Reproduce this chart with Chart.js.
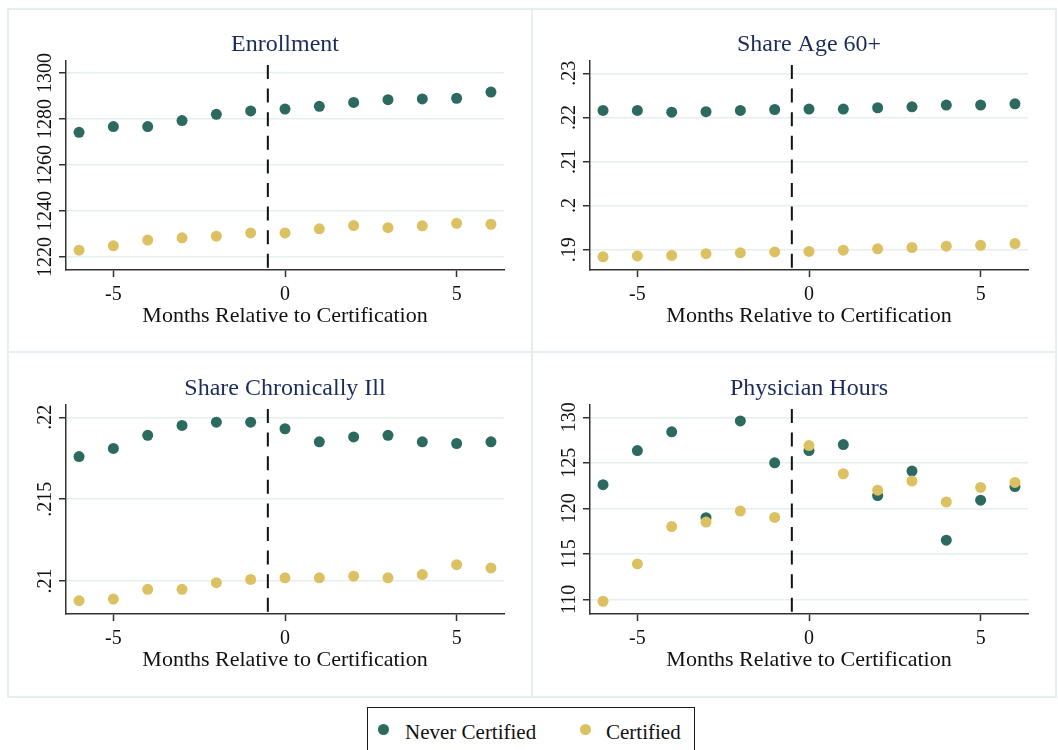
<!DOCTYPE html>
<html>
<head>
<meta charset="utf-8">
<script src="https://cdn.jsdelivr.net/npm/chart.js@4/dist/chart.umd.min.js"></script>
<style>
  body { margin: 0; background: #fff; width: 1058px; height: 750px; position: relative; overflow: hidden;
         font-family: "Liberation Serif", "Times New Roman", serif; }
  .frame { position: absolute; box-sizing: border-box; border: 2px solid #e6eef0; }
  canvas { position: absolute; }
  #legend { position: absolute; left: 367px; top: 707px; width: 328px; height: 60px; box-sizing: border-box;
            border: 1.5px solid #1a1a1a; }
  .dot { position: absolute; width: 11px; height: 11px; border-radius: 50%; }
  .lbl { position: absolute; font-size: 21px; line-height: 26px; color: #111; white-space: nowrap; }
</style>
</head>
<body>
<div class="frame" style="left:7px;top:8px;width:526px;height:345px"></div>
<div class="frame" style="left:531px;top:8px;width:526px;height:345px"></div>
<div class="frame" style="left:7px;top:351px;width:526px;height:347px"></div>
<div class="frame" style="left:531px;top:351px;width:526px;height:347px"></div>

<canvas id="c1" width="524" height="344" style="left:8px;top:8px"></canvas>
<canvas id="c2" width="524" height="344" style="left:532px;top:8px"></canvas>
<canvas id="c3" width="524" height="344" style="left:8px;top:352px"></canvas>
<canvas id="c4" width="524" height="344" style="left:532px;top:352px"></canvas>

<div id="legend"></div>
<div class="dot" style="left:378px;top:724px;background:#2c6a5f"></div>
<div class="lbl" style="left:405px;top:719px">Never Certified</div>
<div class="dot" style="left:580px;top:724px;background:#dcc162"></div>
<div class="lbl" style="left:606px;top:719px">Certified</div>

<script>
var months = [-6, -5, -4, -3, -2, -1, 0, 1, 2, 3, 4, 5, 6];

var enrollNever = [1274.2, 1276.7, 1276.7, 1279.3, 1282.0, 1283.5, 1284.3, 1285.5, 1287.2, 1288.4, 1288.7, 1289.0, 1291.7];
var enrollCert  = [1222.9, 1224.8, 1227.3, 1228.3, 1229.0, 1230.4, 1230.4, 1232.2, 1233.6, 1232.7, 1233.5, 1234.6, 1234.2];

var age60Never = [.2216, .2216, .2212, .2213, .2216, .2218, .2219, .2219, .2222, .2224, .2228, .2228, .2231];
var age60Cert  = [.1884, .1886, .1887, .1891, .1893, .1895, .1896, .1899, .1902, .1905, .1908, .1910, .1914];

var chronicNever = [.2176, .2181, .2189, .2195, .2197, .2197, .2193, .2185, .2188, .2189, .2185, .2184, .2185];
var chronicCert  = [.2088, .2089, .2095, .2095, .2099, .2101, .2102, .2102, .2103, .2102, .2104, .2110, .2108];

var hoursNever = [122.6, 126.35, 128.4, 118.98, 129.6, 125.0, 126.35, 127.0, 121.4, 124.1, 116.5, 120.9, 122.4];
var hoursCert  = [109.8, 113.9, 118.0, 118.5, 119.7, 119.0, 126.9, 123.8, 122.0, 123.0, 120.7, 122.3, 122.85];

var xTitle = 'Months Relative to Certification';
var seriesNames = ['Never Certified', 'Certified'];

var panels = [
  {id: 'c1', title: 'Enrollment',            never: enrollNever,  cert: enrollCert,  min: 1214.3, max: 1305.2, step: 20},
  {id: 'c2', title: 'Share Age 60+',         never: age60Never,   cert: age60Cert,   min: .1854,  max: .2328,  step: .01},
  {id: 'c3', title: 'Share Chronically Ill', never: chronicNever, cert: chronicCert, min: .20799, max: .22075, step: .005},
  {id: 'c4', title: 'Physician Hours',       never: hoursNever,   cert: hoursCert,   min: 108.4,  max: 131.35, step: 5}
];

var GREEN = '#2c6a5f', GOLD = '#dcc162';
var SERIF = '"Liberation Serif", "Times New Roman", serif';
Chart.defaults.font.family = SERIF;

function toPoints(vals) {
  return months.map(function(m, i) { return {x: m, y: vals[i]}; });
}

// leading zero dropped, e.g. 0.215 -> .215
function fmt(v) {
  var s = String(+v.toFixed(4));
  return s.replace(/^0\./, '.').replace(/^-0\./, '-.');
}

// title, rotated y labels and the dashed line at certification
var panelDecor = {
  id: 'panelDecor',
  beforeDatasetsDraw: function(chart) {
    var ctx = chart.ctx, area = chart.chartArea;
    var cx = chart.scales.x.getPixelForValue(-0.5);
    ctx.save();
    ctx.strokeStyle = '#111';
    ctx.lineWidth = 2;
    ctx.setLineDash([14, 9.6]);
    ctx.beginPath();
    ctx.moveTo(cx, area.top + 4);
    ctx.lineTo(cx, area.bottom);
    ctx.stroke();
    ctx.restore();
  },
  afterDraw: function(chart, args, opts) {
    var ctx = chart.ctx, area = chart.chartArea, ys = chart.scales.y;
    ctx.save();
    ctx.fillStyle = '#1c2c5a';
    ctx.font = '24px ' + SERIF;
    ctx.textAlign = 'center';
    ctx.textBaseline = 'alphabetic';
    ctx.fillText(opts.title, (area.left + area.right) / 2, area.top - 10);

    ctx.fillStyle = '#111';
    ctx.font = '20px ' + SERIF;
    ys.ticks.forEach(function(t) {
      var y = ys.getPixelForValue(t.value);
      ctx.save();
      ctx.translate(area.left - 15, y);
      ctx.rotate(-Math.PI / 2);
      ctx.fillText(fmt(t.value), 0, 0);
      ctx.restore();
    });
    ctx.restore();
  }
};

function makePanel(p) {
  new Chart(document.getElementById(p.id), {
    type: 'scatter',
    data: {
      datasets: [
        {label: seriesNames[0], data: toPoints(p.never), backgroundColor: GREEN, borderWidth: 0, pointRadius: 5.5, order: 1},
        {label: seriesNames[1], data: toPoints(p.cert), backgroundColor: GOLD, borderWidth: 0, pointRadius: 5.5, order: 0}
      ]
    },
    options: {
      responsive: false,
      animation: false,
      devicePixelRatio: 1,
      layout: {padding: {left: 0, right: 28, top: 53, bottom: 0}},
      plugins: {
        legend: {display: false},
        tooltip: {enabled: false},
        panelDecor: {title: p.title}
      },
      scales: {
        x: {
          type: 'linear',
          min: -6.38, max: 6.38,
          afterFit: function(s) { s.height = 82; },
          ticks: {stepSize: 5, includeBounds: false, color: '#111', font: {size: 20}, padding: 5.5,
                  callback: function(v) { return String(v); }},
          grid: {drawOnChartArea: false, tickLength: 7, tickColor: '#333', tickWidth: 1.5},
          border: {color: '#333', width: 1.5},
          title: {display: true, text: xTitle, color: '#111', font: {size: 22}, padding: {top: 0, bottom: 22.3}}
        },
        y: {
          type: 'linear',
          min: p.min, max: p.max,
          afterFit: function(s) { s.width = 58; },
          ticks: {stepSize: p.step, includeBounds: false, color: 'rgba(0,0,0,0)', font: {size: 20}},
          grid: {color: '#e6eef0', lineWidth: 1.5, tickLength: 7, tickColor: '#333', tickWidth: 1.5},
          border: {color: '#333', width: 1.5}
        }
      }
    },
    plugins: [panelDecor]
  });
}

panels.forEach(makePanel);
</script>
</body>
</html>
